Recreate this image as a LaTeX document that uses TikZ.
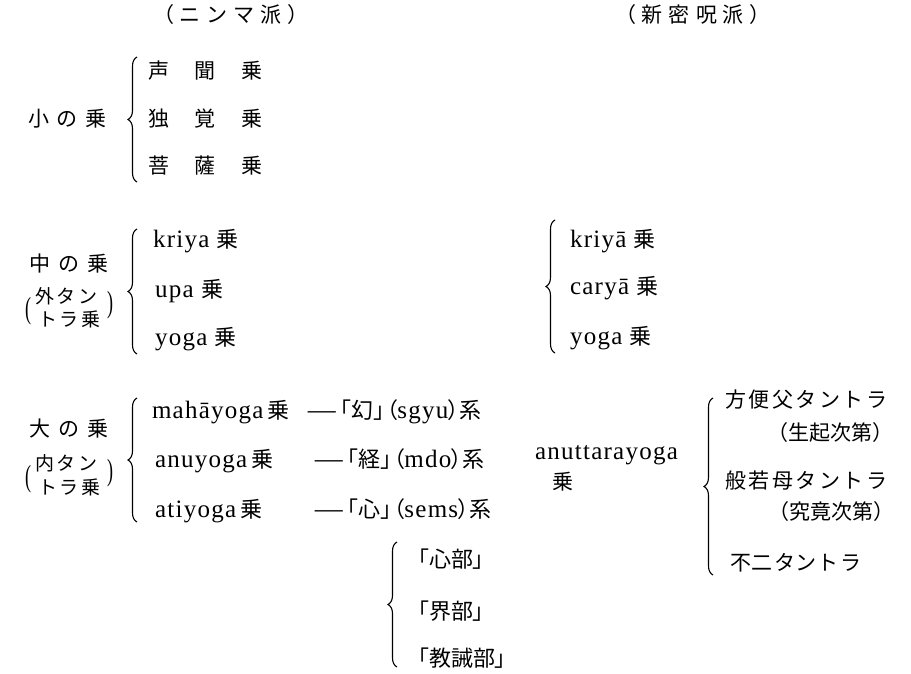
\documentclass[tikz,border=0pt]{standalone}
\usepackage{fontspec}
\usepackage{graphicx}
\setmainfont{Liberation Serif}[LetterSpace=5]
\newfontfamily\jpfont{Noto Sans CJK JP}
\newfontfamily\jppfont{Noto Sans CJK JP}[RawFeature=+palt]
\newcommand\J[1]{{\fontsize{22}{26}\selectfont\jpfont #1}}
\newcommand\Jp[1]{{\fontsize{22}{26}\selectfont\jppfont #1}}
\newcommand\dash{\J{\scalebox{1.6}[1]{—}}}
\usetikzlibrary{decorations.pathreplacing}
\begin{document}
\begin{tikzpicture}[x=1pt,y=-1pt,
  every node/.style={inner sep=0pt,outer sep=0pt,anchor=base west,font=\fontsize{25}{28}\selectfont},
  jp/.style={font=\fontsize{21}{24}\selectfont\jpfont},
  br/.style={decorate,decoration={brace,amplitude=9pt},line width=1.1pt},
  sub/.style={anchor=base west,font=\fontsize{19}{22}\selectfont\jpfont},
  par/.style={anchor=center,font=\fontsize{18}{20}\selectfont}]
\useasboundingbox (0,0) rectangle (911,673);

% headers
\node[jp,anchor=base] (h1) at (231,22) {（\hspace{6pt}ニ\hspace{6pt}ン\hspace{6pt}マ\hspace{6pt}派\hspace{6pt}）};
\node[jp,anchor=base] (h2) at (693,22) {（\hspace{6pt}新\hspace{6pt}密\hspace{6pt}呪\hspace{6pt}派\hspace{6pt}）};

% small vehicle
\node[jp] (sho) at (28,126) {小\hspace{8pt}の\hspace{8pt}乗};
\node[jp] (s1) at (148,78) {声\hspace{26pt}聞\hspace{26pt}乗};
\node[jp] (s2) at (148,126) {独\hspace{26pt}覚\hspace{26pt}乗};
\node[jp] (s3) at (148,173) {菩\hspace{26pt}薩\hspace{26pt}乗};
\coordinate (b1b) at (137,182); \coordinate (b1t) at (137,57);
\draw[br] (b1b) -- (b1t);

% middle vehicle
\node[jp] (chu) at (30,271) {中\hspace{8pt}の\hspace{8pt}乗};
\node[sub] (chuA) at (35,303) {外\hspace{3pt}タ\hspace{3pt}ン};
\node[sub] (chuB) at (38,326) {ト\hspace{3pt}ラ\hspace{3pt}乗};
\node[par] (chuL) at (28,311) {\scalebox{1}[1.7]{(}};
\node[par] (chuR) at (110,305) {\scalebox{1}[1.7]{)}};
\node (k1) at (153,247) {kriya \J{乗}};
\node (k2) at (155,297) {upa \J{乗}};
\node (k3) at (155,345) {yoga \J{乗}};
\coordinate (b2b) at (137,354); \coordinate (b2t) at (137,229);
\draw[br] (b2b) -- (b2t);

\node (n1) at (570,247) {kriyā \J{乗}};
\node (n2) at (570,294) {caryā \J{乗}};
\node (n3) at (570,344) {yoga \J{乗}};
\coordinate (b3b) at (555,353); \coordinate (b3t) at (555,220);
\draw[br] (b3b) -- (b3t);

% great vehicle
\node[jp] (dai) at (30,436) {大\hspace{8pt}の\hspace{8pt}乗};
\node[sub] (daiA) at (35,470) {内\hspace{3pt}タ\hspace{3pt}ン};
\node[sub] (daiB) at (38,494) {ト\hspace{3pt}ラ\hspace{3pt}乗};
\node[par] (daiL) at (28,479) {\scalebox{1}[1.7]{(}};
\node[par] (daiR) at (110,473) {\scalebox{1}[1.7]{)}};
\node (m1) at (152,418) {mahāyoga\,\J{乗}};
\node (m2) at (155,467) {anuyoga\,\J{乗}};
\node (m3) at (155,517) {atiyoga\,\J{乗}};
\node (g1) at (306,418) {\dash\hspace{3pt}\Jp{「幻」\hspace{2pt}（}sgyu\Jp{）系}};
\node (g2) at (313,467) {\dash\hspace{3pt}\Jp{「経」\hspace{2pt}（}mdo\Jp{）系}};
\node (g3) at (313,517) {\dash\hspace{3pt}\Jp{「心」\hspace{2pt}（}sems\Jp{）系}};
\coordinate (b4b) at (137,522); \coordinate (b4t) at (137,398);
\draw[br] (b4b) -- (b4t);

\node (an) at (535,459) {anuttarayoga};
\node[jp] (an2) at (552,489) {乗};
\coordinate (b5b) at (713,575); \coordinate (b5t) at (713,398);
\draw[br] (b5b) -- (b5t);
\node[jp] (t1) at (725,407) {方\hspace{2.5pt}便\hspace{2.5pt}父\hspace{2.5pt}タ\hspace{2.5pt}ン\hspace{2.5pt}ト\hspace{2.5pt}ラ};
\node[jp] (t1b) at (767,440) {（生起次第）};
\node[jp] (t2) at (725,488) {般\hspace{2.5pt}若\hspace{2.5pt}母\hspace{2.5pt}タ\hspace{2.5pt}ン\hspace{2.5pt}ト\hspace{2.5pt}ラ};
\node[jp] (t2b) at (768,519) {（究竟次第）};
\node[jp] (t3) at (730,570) {不\hspace{1pt}二\hspace{1pt}タ\hspace{1pt}ン\hspace{1pt}ト\hspace{1pt}ラ};

% atiyoga subdivisions
\coordinate (b6b) at (397,667); \coordinate (b6t) at (397,542);
\draw[br] (b6b) -- (b6t);
\node (c1) at (418,567) {\Jp{「心部」}};
\node (c2) at (418,619) {\Jp{「界部」}};
\node (c3) at (418,666) {\Jp{「教誡部」}};
\end{tikzpicture}
\end{document}
